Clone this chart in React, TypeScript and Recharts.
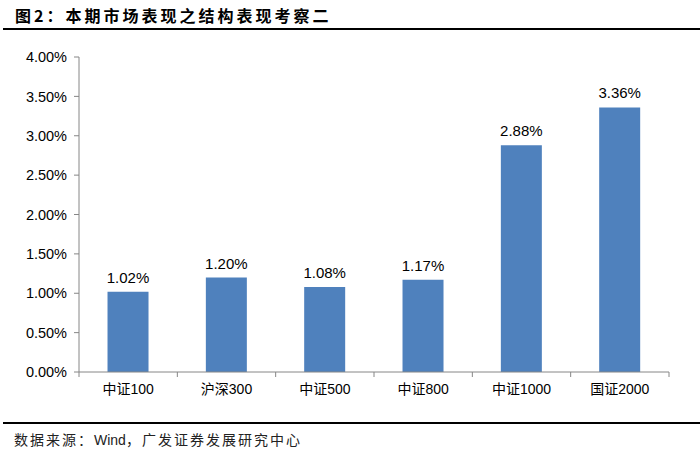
import { BarChart, Bar, XAxis, YAxis, LabelList } from "recharts";

const categories = ["中证100", "沪深300", "中证500", "中证800", "中证1000", "国证2000"];
const returns = [1.02, 1.2, 1.08, 1.17, 2.88, 3.36];
const yTicks = [0, 0.5, 1, 1.5, 2, 2.5, 3, 3.5, 4];

const data = categories.map((name, i) => ({ name, value: returns[i] }));

const PLOT_LEFT = 79;
const PLOT_RIGHT = 669;
const BAND = (PLOT_RIGHT - PLOT_LEFT) / categories.length;
const AXIS = "#868686";
const FONT = "'Liberation Sans', Arial, 'Noto Sans CJK SC', sans-serif";

function XTick(props: any) {
  const { x, y, payload, index } = props;
  const left = x - BAND / 2;
  const last = index === categories.length - 1;
  return (
    <g>
      <line x1={left} x2={left} y1={y - 7} y2={y - 2} stroke={AXIS} />
      {last && <line x1={x + BAND / 2} x2={x + BAND / 2} y1={y - 7} y2={y - 2} stroke={AXIS} />}
      <text x={x} y={y + 15} textAnchor="middle" fontSize={14} fill="#000" fontFamily={FONT}>
        {payload.value}
      </text>
    </g>
  );
}

export default function App() {
  return (
    <div style={{ position: "absolute", left: 0, top: 0, width: 700, height: 450, background: "#fff" }}>
      <div
        style={{
          position: "absolute",
          left: 15,
          top: 5,
          fontSize: 16,
          fontWeight: "bold",
          letterSpacing: 3,
          fontFamily: "'Noto Sans CJK SC', sans-serif",
          color: "#000",
          lineHeight: "20px",
        }}
      >
        图2：本期市场表现之结构表现考察二
      </div>
      <div style={{ position: "absolute", left: 3, top: 28, width: 697, height: 2, background: "#000" }} />
      <div style={{ position: "absolute", left: 0, top: 0 }}>
        <BarChart
          width={700}
          height={410}
          data={data}
          margin={{ top: 57, right: 700 - PLOT_RIGHT, left: 0, bottom: 0 }}
          barCategoryGap="29%"
        >
          <XAxis
            dataKey="name"
            height={38}
            stroke={AXIS}
            tickLine={false}
            tickSize={5}
            tickMargin={2}
            interval={0}
            tick={<XTick />}
          />
          <YAxis
            width={PLOT_LEFT}
            domain={[0, 4]}
            ticks={yTicks}
            stroke={AXIS}
            tickSize={5}
            tickMargin={7}
            tickFormatter={(v: number) => v.toFixed(2) + "%"}
            tick={{ fill: "#000", fontSize: 14.5, fontFamily: FONT }}
          />
          <Bar dataKey="value" fill="#4F81BD" isAnimationActive={false}>
            <LabelList
              dataKey="value"
              position="top"
              offset={9}
              formatter={(v: number) => v.toFixed(2) + "%"}
              style={{ fill: "#000", fontSize: 15, fontFamily: FONT }}
            />
          </Bar>
        </BarChart>
      </div>
      <div style={{ position: "absolute", left: 3, top: 422, width: 697, height: 2, background: "#000" }} />
      <div
        style={{
          position: "absolute",
          left: 14,
          top: 430,
          fontSize: 14,
          letterSpacing: 2,
          lineHeight: "18px",
          fontFamily: "'Noto Sans CJK SC', sans-serif",
          color: "#222",
        }}
      >
        数据来源：<span style={{ fontFamily: FONT, letterSpacing: 0 }}>Wind</span>，广发证券发展研究中心
      </div>
    </div>
  );
}
